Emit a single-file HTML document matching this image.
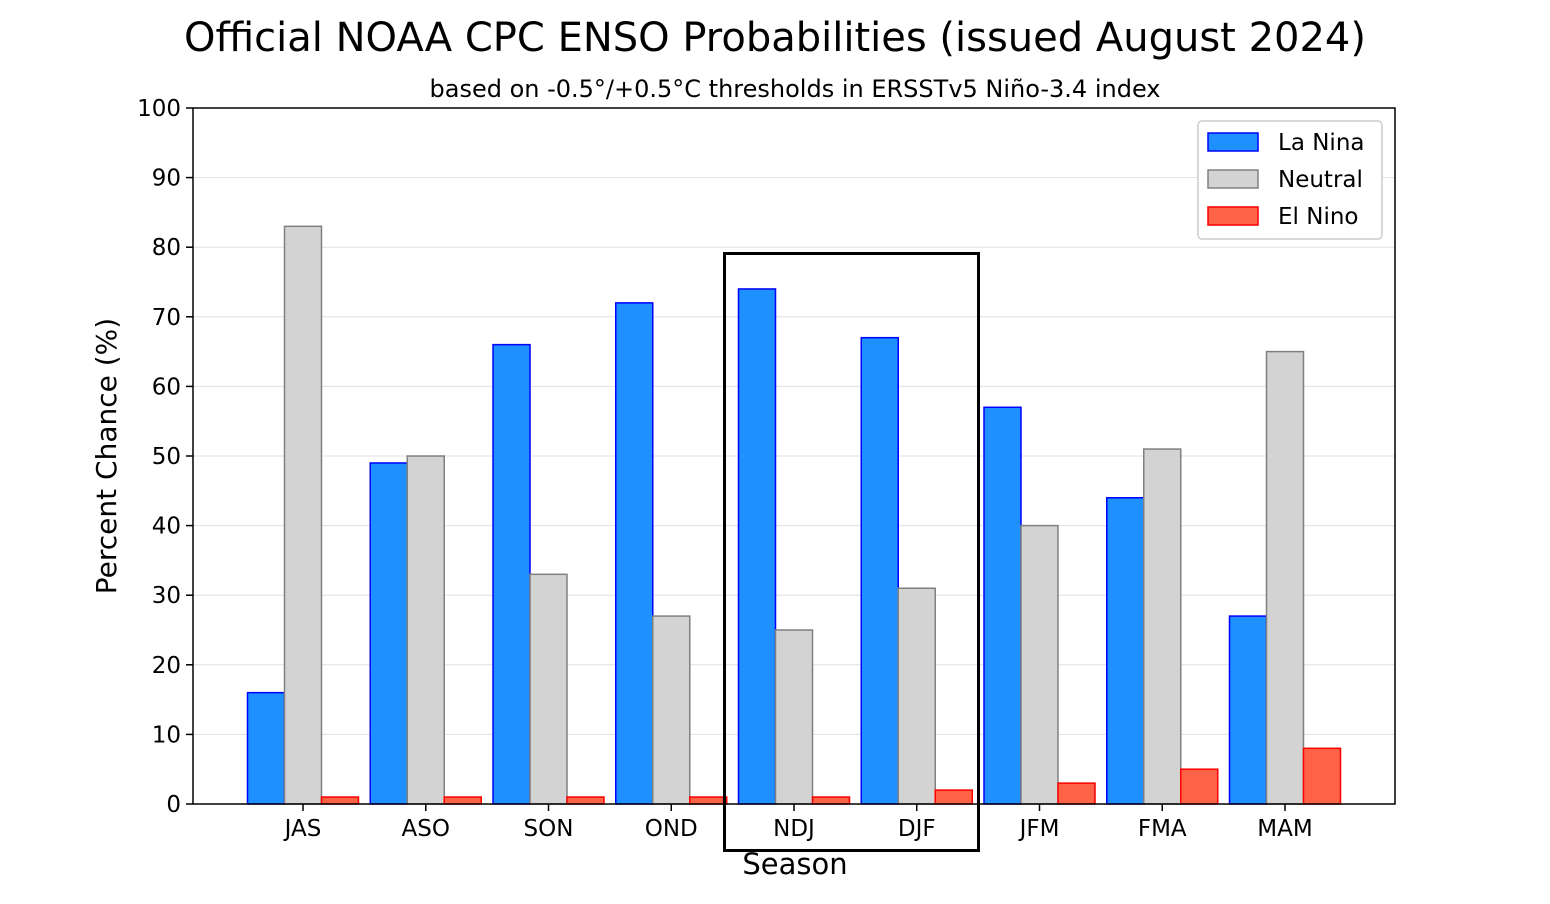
<!DOCTYPE html>
<html><head><meta charset="utf-8"><style>
body{margin:0;background:#fff;}
svg{display:block;font-family:"DejaVu Sans","Liberation Sans",sans-serif;}
</style></head><body>
<svg id="chart" width="1550" height="904">
<text x="775" y="51" text-anchor="middle" font-size="40">Official NOAA CPC ENSO Probabilities (issued August 2024)</text>
<text x="795" y="97" text-anchor="middle" font-size="24">based on -0.5°/+0.5°C thresholds in ERSSTv5 Niño-3.4 index</text>
<text transform="translate(116,456) rotate(-90)" text-anchor="middle" font-size="28">Percent Chance (%)</text>
<text x="795" y="874" text-anchor="middle" font-size="29">Season</text>
<g id="grid"></g><g id="bars"></g><g id="axes"></g>
<rect x="724.5" y="253.5" width="254" height="597" fill="none" stroke="#000" stroke-width="3"/>
<g>
<rect x="1198" y="121" width="184" height="118" rx="4" fill="#fff" stroke="#ccc" stroke-width="1.5"/>
<g><rect x="1208" y="133" width="50" height="18" fill="#1E90FF" stroke="#0000ff" stroke-width="1.5"/><text x="1278" y="150" font-size="23">La Nina</text></g>
<g><rect x="1208" y="170" width="50" height="18" fill="#D3D3D3" stroke="#808080" stroke-width="1.5"/><text x="1278" y="187" font-size="23">Neutral</text></g>
<g><rect x="1208" y="207" width="50" height="18" fill="#FF6347" stroke="#ff0000" stroke-width="1.5"/><text x="1278" y="224" font-size="23">El Nino</text></g>
</g>
</svg>
<script>
const seasons=["JAS","ASO","SON","OND","NDJ","DJF","JFM","FMA","MAM"];
const laNina=[16,49,66,72,74,67,57,44,27];
const neutral=[83,50,33,27,25,31,40,51,65];
const elNino=[1,1,1,1,1,2,3,5,8];
const yTicks=[0,10,20,30,40,50,60,70,80,90,100];
const NS="http://www.w3.org/2000/svg";
const L=193,R=1395,T=108,B=804;
const y=v=>B-(B-T)*v/100;
const x=i=>L+110+i*(R-L-220)/(seasons.length-1);
const bw=37;
function mk(tag,attrs,parent){const e=document.createElementNS(NS,tag);for(const k in attrs)e.setAttribute(k,attrs[k]);parent.appendChild(e);return e;}
const grid=document.getElementById('grid'),bars=document.getElementById('bars'),axes=document.getElementById('axes');
yTicks.forEach(t=>{
 const g=mk('line',{x1:L,x2:R,y1:y(t),y2:y(t),stroke:'#e0e0e0','stroke-width':1},grid);
 
 
 const tk=mk('line',{x1:L-7,x2:L,y1:y(t),y2:y(t),stroke:'#000','stroke-width':1.5},axes);
 
 
 const lb=mk('text',{x:L-12,y:y(t)+8,'text-anchor':'end','font-size':23},axes);
 lb.textContent=t;
 
 
});
const series=[[laNina,'#1E90FF','#0000ff',-1,'la-nina'],[neutral,'#D3D3D3','#808080',0,'neutral'],[elNino,'#FF6347','#ff0000',1,'el-nino']];
seasons.forEach((s,i)=>{
 series.forEach(([vals,fill,stroke,off,nm])=>{
  const r=mk('rect',{x:x(i)+off*bw-bw/2,y:y(vals[i]),width:bw,height:B-y(vals[i]),fill:fill,stroke:stroke,'stroke-width':1.5},bars);
  
  
 });
 const tk=mk('line',{x1:x(i),x2:x(i),y1:B,y2:B+7,stroke:'#000','stroke-width':1.5},axes);
 
 
 const lb=mk('text',{x:x(i),y:B+32,'text-anchor':'middle','font-size':23},axes);
 lb.textContent=s;
 
 
});
const fr=mk('rect',{x:L,y:T,width:R-L,height:B-T,fill:'none',stroke:'#000','stroke-width':1.5},axes);


</script>
</body></html>
